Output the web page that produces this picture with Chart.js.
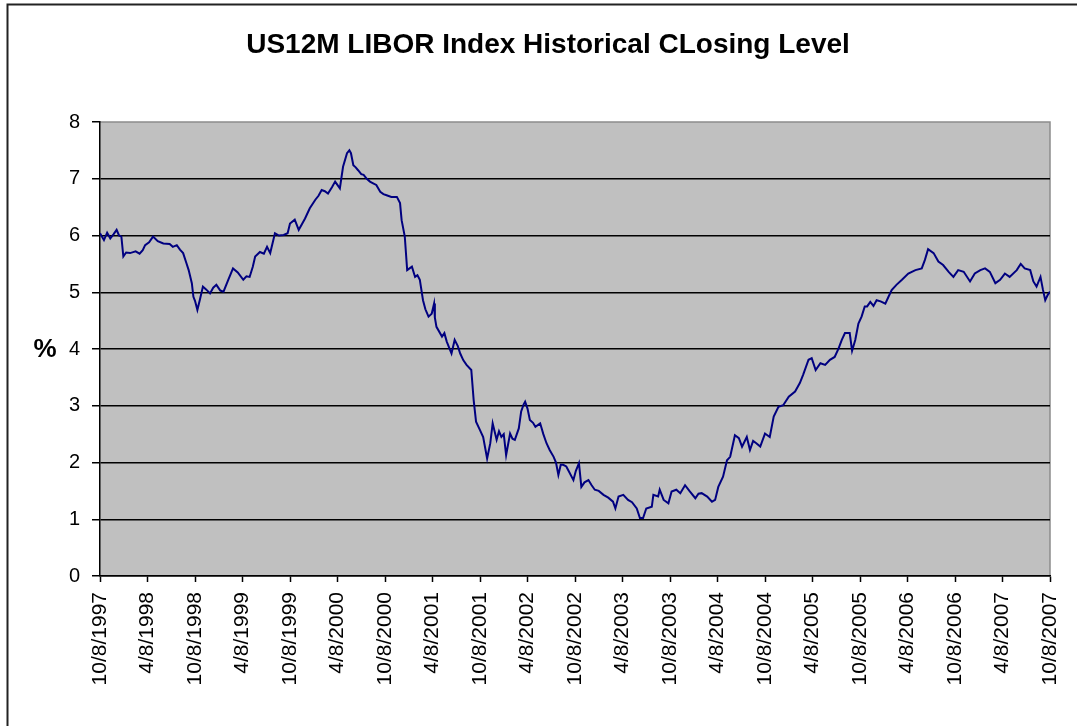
<!DOCTYPE html>
<html>
<head>
<meta charset="utf-8">
<script src="https://cdn.jsdelivr.net/npm/chart.js@4.4.1/dist/chart.umd.min.js"></script>
<style>
  body { margin: 0; background: #fff; }
  canvas { display: block; }
</style>
</head>
<body>
<canvas id="liborchart" width="1077" height="726"></canvas>
<script>
// months since 10/8/1997
const months = [
  0.0, 0.5, 0.9, 1.3, 1.7, 2.1, 2.4, 2.7, 2.95, 3.3, 3.8, 4.5, 5.0, 5.4, 5.7, 6.2, 6.7, 7.3, 8.0, 8.8,
  9.2, 9.7, 10.1, 10.5, 10.9, 11.2, 11.6, 11.8, 12.0, 12.3, 12.6, 13.0, 13.4, 13.9, 14.3, 14.7, 15.2, 15.6, 16.2, 16.8,
  17.4, 18.1, 18.5, 18.9, 19.3, 19.6, 20.2, 20.7, 21.1, 21.5, 22.1, 22.6, 23.2, 23.7, 24.0, 24.6, 25.1, 25.5, 25.9, 26.5,
  27.2, 27.6, 28.0, 28.4, 28.8, 29.3, 29.7, 30.3, 30.7, 31.2, 31.5, 31.7, 32.0, 32.3, 32.6, 33.0, 33.3, 33.7, 34.1, 34.5,
  34.9, 35.4, 35.8, 36.2, 36.8, 37.5, 37.9, 38.1, 38.5, 38.8, 39.1, 39.4, 39.8, 40.1, 40.4, 40.8, 41.1, 41.5, 41.9, 42.2,
  42.3, 42.5, 43.2, 43.5, 43.8, 44.4, 44.8, 45.2, 45.5, 45.9, 46.3, 46.9, 47.2, 47.5, 48.0, 48.4, 48.9, 49.3, 49.6, 50.1,
  50.4, 50.7, 51.0, 51.3, 51.8, 52.1, 52.4, 52.9, 53.2, 53.5, 53.7, 54.0, 54.3, 54.7, 55.0, 55.6, 56.0, 56.4, 56.8, 57.3,
  57.6, 57.9, 58.2, 58.5, 58.9, 59.2, 59.8, 60.1, 60.5, 60.8, 61.2, 61.7, 62.1, 62.5, 63.0, 63.6, 64.2, 64.8, 65.1, 65.5,
  66.1, 66.7, 67.2, 67.8, 68.2, 68.6, 69.0, 69.7, 69.9, 70.5, 70.7, 71.2, 71.8, 72.2, 72.8, 73.3, 73.9, 74.5, 75.2, 75.6,
  76.0, 76.7, 77.3, 77.7, 78.1, 78.7, 79.2, 79.6, 80.2, 80.7, 81.1, 81.7, 82.1, 82.5, 82.9, 83.4, 84.0, 84.6, 85.1, 85.7,
  86.3, 87.0, 87.8, 88.4, 88.8, 89.5, 89.9, 90.4, 91.0, 91.6, 92.2, 92.8, 93.3, 93.7, 94.1, 94.7, 95.0, 95.4, 95.8, 96.2,
  96.6, 96.9, 97.3, 97.7, 98.1, 98.6, 99.2, 99.6, 100.0, 100.6, 101.3, 102.1, 103.0, 103.8, 104.2, 104.6, 105.3, 105.9, 106.5, 107.2,
  107.8, 108.4, 109.1, 109.9, 110.5, 111.2, 111.8, 112.4, 113.1, 113.7, 114.3, 114.9, 115.8, 116.3, 116.8, 117.5, 117.9, 118.3, 118.8, 119.1,
  119.4, 119.7, 120.0
];
const libor = [
  6.04, 5.92, 6.05, 5.95, 6.02, 6.10, 6.00, 5.98, 5.63, 5.70, 5.69, 5.72, 5.68, 5.74, 5.83, 5.88, 5.98, 5.90, 5.86, 5.85,
  5.80, 5.83, 5.75, 5.69, 5.52, 5.39, 5.16, 4.92, 4.85, 4.69, 4.86, 5.10, 5.05, 4.98, 5.08, 5.13, 5.03, 5.01, 5.22, 5.42,
  5.35, 5.22, 5.28, 5.27, 5.45, 5.63, 5.71, 5.68, 5.80, 5.69, 6.04, 6.00, 6.01, 6.04, 6.21, 6.28, 6.10, 6.20, 6.30, 6.48,
  6.63, 6.70, 6.80, 6.78, 6.74, 6.85, 6.95, 6.83, 7.21, 7.45, 7.50, 7.45, 7.24, 7.20, 7.15, 7.08, 7.07, 7.00, 6.95, 6.92,
  6.89, 6.77, 6.73, 6.71, 6.68, 6.68, 6.57, 6.27, 5.98, 5.39, 5.42, 5.45, 5.27, 5.30, 5.22, 4.86, 4.70, 4.57, 4.62, 4.80,
  4.55, 4.39, 4.22, 4.28, 4.13, 3.92, 4.16, 4.05, 3.92, 3.80, 3.72, 3.63, 3.10, 2.72, 2.57, 2.45, 2.07, 2.34, 2.69, 2.40,
  2.55, 2.45, 2.50, 2.13, 2.51, 2.42, 2.40, 2.60, 2.90, 3.02, 3.07, 2.95, 2.75, 2.70, 2.63, 2.69, 2.50, 2.34, 2.22, 2.10,
  2.00, 1.78, 1.96, 1.96, 1.93, 1.85, 1.69, 1.85, 1.99, 1.57, 1.65, 1.69, 1.60, 1.52, 1.50, 1.43, 1.38, 1.31, 1.19, 1.40,
  1.43, 1.34, 1.30, 1.19, 1.02, 1.02, 1.19, 1.22, 1.43, 1.40, 1.52, 1.34, 1.28, 1.49, 1.52, 1.46, 1.60, 1.49, 1.37, 1.45,
  1.46, 1.40, 1.31, 1.34, 1.57, 1.75, 2.04, 2.10, 2.48, 2.43, 2.28, 2.45, 2.22, 2.38, 2.34, 2.28, 2.51, 2.45, 2.81, 2.98,
  3.01, 3.16, 3.25, 3.40, 3.54, 3.81, 3.84, 3.63, 3.75, 3.72, 3.81, 3.86, 4.01, 4.16, 4.28, 4.28, 3.97, 4.16, 4.45, 4.57,
  4.75, 4.75, 4.83, 4.76, 4.86, 4.84, 4.80, 4.92, 5.04, 5.13, 5.22, 5.33, 5.39, 5.42, 5.57, 5.76, 5.69, 5.54, 5.48, 5.36,
  5.27, 5.39, 5.36, 5.19, 5.33, 5.39, 5.42, 5.36, 5.16, 5.22, 5.33, 5.27, 5.39, 5.50, 5.42, 5.39, 5.19, 5.10, 5.27, 5.05,
  4.86, 4.95, 5.01
];
const tickMonths = [0, 6, 12, 18, 24, 30, 36, 42, 48, 54, 60, 66, 72, 78, 84, 90, 96, 102, 108, 114, 120];
const tickLabels = [
  '10/8/1997', '4/8/1998', '10/8/1998', '4/8/1999', '10/8/1999', '4/8/2000', '10/8/2000',
  '4/8/2001', '10/8/2001', '4/8/2002', '10/8/2002', '4/8/2003', '10/8/2003', '4/8/2004',
  '10/8/2004', '4/8/2005', '10/8/2005', '4/8/2006', '10/8/2006', '4/8/2007', '10/8/2007'
];
const chartTitle = 'US12M LIBOR Index Historical CLosing Level';

const points = months.map((m, i) => ({ x: m, y: libor[i] }));

// grey plot area, outer frame, title and the "%" label
const excelLook = {
  id: 'excelLook',
  beforeDraw(chart) {
    const { ctx, chartArea: a } = chart;
    ctx.save();
    ctx.fillStyle = '#fff';
    ctx.fillRect(0, 0, chart.width, chart.height);
    ctx.strokeStyle = '#222';
    ctx.lineWidth = 2;
    ctx.beginPath();
    ctx.moveTo(7.5, chart.height);
    ctx.lineTo(7.5, 4.5);
    ctx.lineTo(chart.width, 4.5);
    ctx.stroke();
    ctx.fillStyle = '#c0c0c0';
    ctx.fillRect(a.left, a.top, a.right - a.left, a.bottom - a.top);
    ctx.strokeStyle = '#8c8c8c';
    ctx.lineWidth = 1.5;
    ctx.beginPath();
    ctx.moveTo(a.left, a.top);
    ctx.lineTo(a.right, a.top);
    ctx.lineTo(a.right, a.bottom);
    ctx.stroke();
    ctx.fillStyle = '#000';
    ctx.textAlign = 'center';
    ctx.textBaseline = 'middle';
    ctx.font = 'bold 28px "Liberation Sans", Arial, sans-serif';
    ctx.fillText(chartTitle, 548, 45);
    ctx.font = 'bold 26px "Liberation Sans", Arial, sans-serif';
    ctx.fillText('%', 45, 350);
    ctx.restore();
  }
};

const ctx = document.getElementById('liborchart').getContext('2d');
const myChart = new Chart(ctx, {
  type: 'line',
  data: {
    datasets: [{
      label: 'US12M LIBOR',
      data: points,
      borderColor: '#000080',
      borderWidth: 2,
      pointRadius: 0,
      tension: 0,
      fill: false,
    }],
  },
  options: {
    responsive: false,
    animation: false,
    devicePixelRatio: 1,
    layout: { padding: { left: 0, right: 27, top: 122, bottom: 0 } },
    plugins: {
      legend: { display: false },
      tooltip: { enabled: false },
      title: { display: false },
    },
    scales: {
      x: {
        type: 'linear',
        min: 0,
        max: 120,
        afterBuildTicks: scale => { scale.ticks = tickMonths.map(v => ({ value: v })); },
        afterFit: scale => {
          scale.height = 150;
          scale.paddingLeft = 0;
          scale.paddingRight = 0;
        },
        ticks: {
          autoSkip: false,
          minRotation: 90,
          maxRotation: 90,
          padding: 10,
          color: '#000',
          font: { family: '"Liberation Sans", Arial, sans-serif', size: 21 },
          callback: (value) => tickLabels[tickMonths.indexOf(value)],
        },
        grid: {
          drawOnChartArea: false,
          tickLength: 6,
          tickColor: '#000',
          tickWidth: 1.5,
        },
        border: { color: '#000', width: 1.5 },
      },
      y: {
        min: 0,
        max: 8,
        afterFit: scale => { scale.width = 100; },
        ticks: {
          stepSize: 1,
          padding: 12,
          color: '#000',
          font: { family: '"Liberation Sans", Arial, sans-serif', size: 20 },
        },
        grid: {
          color: c => (c.tick && c.tick.value === 8) ? 'rgba(0,0,0,0)' : '#000',
          lineWidth: 1.5,
          tickLength: 8,
          tickColor: '#000',
        },
        border: { color: '#000', width: 1.5 },
      },
    },
  },
  plugins: [excelLook],
});
</script>
</body>
</html>
